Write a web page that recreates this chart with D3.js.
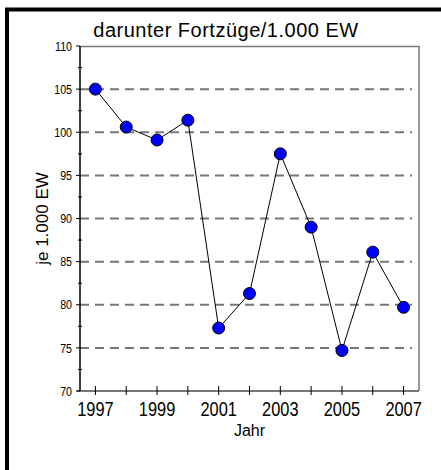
<!DOCTYPE html>
<html>
<head>
<meta charset="utf-8">
<script src="https://cdn.jsdelivr.net/npm/d3@7"></script>
<style>
  body { margin: 0; background: #fff; }
  svg { display: block; }
</style>
</head>
<body>
<svg width="441" height="470"></svg>
<script>
var years = [1997, 1998, 1999, 2000, 2001, 2002, 2003, 2004, 2005, 2006, 2007];
var values = [105.0, 100.6, 99.1, 101.4, 77.3, 81.3, 97.5, 89.0, 74.7, 86.1, 79.7];
var yTicks = [70, 75, 80, 85, 90, 95, 100, 105, 110];
var gridValues = [75, 80, 85, 90, 95, 100, 105];
var xLabels = [1997, 1999, 2001, 2003, 2005, 2007];
var title = "darunter Fortzüge/1.000 EW";

var svg = d3.select("svg"),
    margin = {top: 46, right: 22, bottom: 79, left: 80},
    width = svg.attr("width") - margin.left - margin.right,
    height = svg.attr("height") - margin.top - margin.bottom;

var sans = "'Liberation Sans', Arial, sans-serif";

// outer frame, right and bottom run off the picture
svg.append("rect")
    .attr("x", 7).attr("y", 9.5)
    .attr("width", 500).attr("height", 500)
    .style("fill", "none")
    .style("stroke", "#000")
    .style("stroke-width", 4);

svg.append("text")
    .attr("x", 226)
    .attr("y", 37)
    .attr("text-anchor", "middle")
    .style("font-family", sans)
    .style("font-size", "20px")
    .style("letter-spacing", "0.5px")
    .text(title);

var g = svg.append("g").attr("transform", "translate(" + margin.left + "," + margin.top + ")");

var x = d3.scaleLinear().domain([1996.5, 2007.5]).range([0, width]),
    y = d3.scaleLinear().domain([70, 110]).range([height, 0]);

// grid
g.selectAll(".grid")
  .data(gridValues)
  .enter().append("line")
    .attr("x1", 0).attr("x2", width - 7)
    .attr("y1", function(d) { return y(d); })
    .attr("y2", function(d) { return y(d); })
    .style("stroke", "#777")
    .style("stroke-width", 2)
    .style("stroke-dasharray", "9,6");

// top and right border
g.append("path")
    .attr("d", "M0,0.5H" + width + "V" + height)
    .style("fill", "none")
    .style("stroke", "#777")
    .style("stroke-width", 1.5);

// x axis
var xAxis = g.append("g")
    .attr("transform", "translate(0," + height + ")");
xAxis.append("line")
    .attr("x1", -3).attr("x2", width)
    .style("stroke", "#777").style("stroke-width", 2);
xAxis.selectAll(".xt")
  .data(years)
  .enter().append("line")
    .attr("x1", function(d) { return x(d); })
    .attr("x2", function(d) { return x(d); })
    .attr("y1", -5).attr("y2", 4)
    .style("stroke", "#000");
// narrow digits: squeeze the sans font horizontally
xAxis.selectAll(".xl")
  .data(xLabels)
  .enter().append("text")
    .attr("transform", function(d) { return "translate(" + x(d) + ",25) scale(0.82,1)"; })
    .attr("text-anchor", "middle")
    .style("font-family", sans)
    .style("font-size", "20px")
    .text(function(d) { return d; });

// y axis
var yAxis = g.append("g");
yAxis.append("line")
    .attr("y1", 0).attr("y2", height)
    .style("stroke", "#000").style("stroke-width", 1.5);
yAxis.selectAll(".ymin")
  .data(d3.range(72.5, 110, 5))
  .enter().append("line")
    .attr("x1", -2).attr("x2", 2)
    .attr("y1", function(d) { return y(d); })
    .attr("y2", function(d) { return y(d); })
    .style("stroke", "#000");
yAxis.selectAll(".yt")
  .data(yTicks)
  .enter().append("line")
    .attr("x1", -4).attr("x2", 0)
    .attr("y1", function(d) { return y(d); })
    .attr("y2", function(d) { return y(d); })
    .style("stroke", "#000");
yAxis.selectAll(".yl")
  .data(yTicks)
  .enter().append("text")
    .attr("transform", function(d) { return "translate(-8," + y(d) + ") scale(0.82,1)"; })
    .attr("dy", "0.36em")
    .attr("text-anchor", "end")
    .style("font-family", sans)
    .style("font-size", "13px")
    .text(function(d) { return d; });

g.append("text")
    .attr("transform", "translate(-32," + (height / 2) + ") rotate(-90)")
    .attr("text-anchor", "middle")
    .style("font-family", sans)
    .style("font-size", "17px")
    .text("je 1.000 EW");

g.append("text")
    .attr("x", x(2002))
    .attr("y", height + 45)
    .attr("text-anchor", "middle")
    .style("font-family", sans)
    .style("font-size", "16px")
    .text("Jahr");

var line = d3.line()
    .x(function(d, i) { return x(years[i]); })
    .y(function(d) { return y(d); });

g.append("path")
    .datum(values)
    .attr("d", line)
    .style("fill", "none")
    .style("stroke", "#000")
    .style("stroke-width", 1);

g.selectAll(".dot")
  .data(values)
  .enter().append("circle")
    .attr("cx", function(d, i) { return x(years[i]); })
    .attr("cy", function(d) { return y(d); })
    .attr("r", 6)
    .style("fill", "#0000ff")
    .style("stroke", "#000")
    .style("stroke-width", 1);
</script>
</body>
</html>
